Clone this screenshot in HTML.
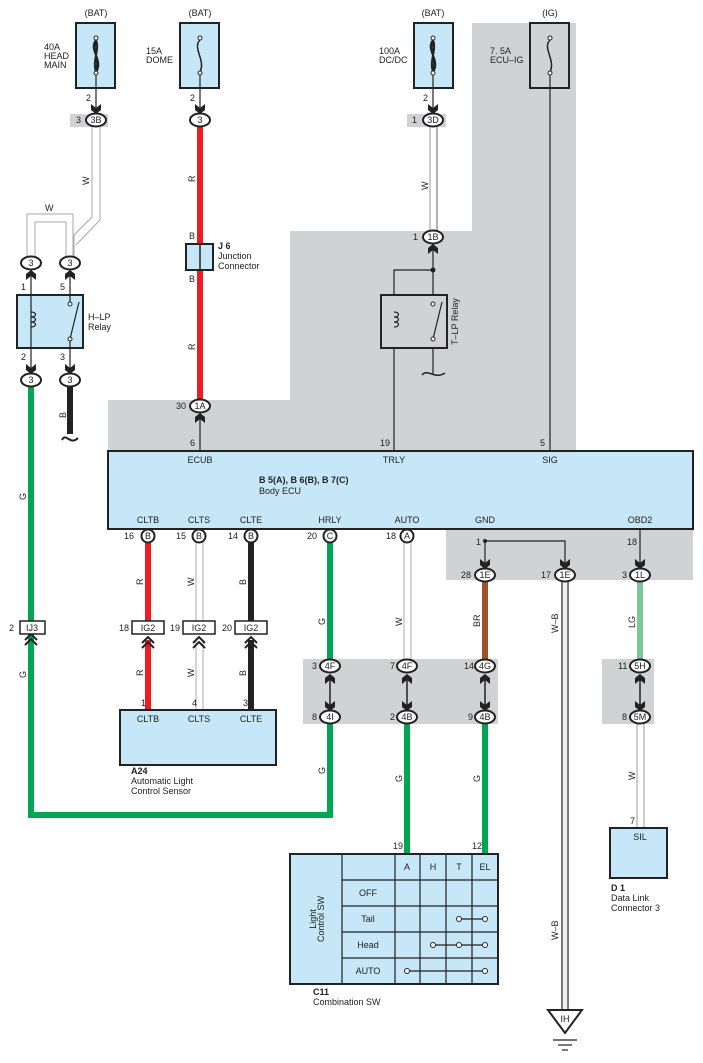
<!DOCTYPE html>
<html><head><meta charset="utf-8"><style>
html,body{margin:0;padding:0;background:#fff}
svg{display:block}
text{font-family:"Liberation Sans",sans-serif;font-size:9px;fill:#222}
.c{text-anchor:middle}
.b{font-weight:bold}
</style></head><body>
<svg width="703" height="1063" viewBox="0 0 703 1063" xmlns="http://www.w3.org/2000/svg">
<defs>
<path id="ad" d="M-5,-9 L0,-5 L5,-9 L5,-3 L0,1 L-5,-3 Z" fill="#222"/>
<path id="au" d="M-5,9 L0,5 L5,9 L5,3 L0,-1 L-5,3 Z" fill="#222"/>
</defs>
<!-- gray regions -->
<polygon points="472,23 576,23 576,451 108,451 108,400 290,400 290,231 472,231" fill="#d1d2d4"/>
<rect x="446" y="529" width="247" height="51" fill="#d1d2d4"/>
<rect x="303" y="659" width="195" height="65" fill="#d1d2d4"/>
<rect x="602" y="659" width="52" height="65" fill="#d1d2d4"/>
<rect x="70" y="114" width="38" height="13" fill="#d1d2d4"/>
<rect x="407" y="114" width="39" height="13" fill="#d1d2d4"/>

<!-- fuses -->
<text x="96" y="16" class="c">(BAT)</text>
<text x="200" y="16" class="c">(BAT)</text>
<text x="433" y="16" class="c">(BAT)</text>
<text x="550" y="16" class="c">(IG)</text>
<rect x="76" y="23" width="39" height="65" fill="#c5e7f7" stroke="#222" stroke-width="2"/>
<rect x="180" y="23" width="39" height="65" fill="#c5e7f7" stroke="#222" stroke-width="2"/>
<rect x="414" y="23" width="39" height="65" fill="#c5e7f7" stroke="#222" stroke-width="2"/>
<rect x="530" y="23" width="39" height="65" fill="#d1d2d4" stroke="#222" stroke-width="2"/>
<g fill="none" stroke="#222" stroke-width="1.5">
<path d="M96,40 C88,50 104,60 96,72 M96,40 C92,50 100,60 96,72 M96,40 C100,50 92,60 96,72" stroke-width="2"/>
<path d="M433,40 C425,50 441,60 433,72 M433,40 C429,50 437,60 433,72 M433,40 C437,50 429,60 433,72" stroke-width="2"/>
<path d="M200,40 C192,48 206,60 200,72"/>
<path d="M550,40 C542,48 556,60 550,72"/>
</g>
<g fill="#fff" stroke="#222" stroke-width="1">
<circle cx="96" cy="38" r="2"/><circle cx="96" cy="73" r="2"/>
<circle cx="200" cy="38" r="2"/><circle cx="200" cy="73" r="2"/>
<circle cx="433" cy="38" r="2"/><circle cx="433" cy="73" r="2"/>
<circle cx="550" cy="38" r="2"/><circle cx="550" cy="73" r="2"/>
</g>
<text x="44" y="50">40A</text><text x="44" y="59">HEAD</text><text x="44" y="68">MAIN</text>
<text x="146" y="54">15A</text><text x="146" y="63">DOME</text>
<text x="379" y="54">100A</text><text x="379" y="63">DC/DC</text>
<text x="490" y="54">7. 5A</text><text x="490" y="63">ECU–IG</text>

<!-- wires -->
<g fill="none">
<line x1="96" y1="75" x2="96" y2="110" stroke="#222" stroke-width="1.2"/>
<line x1="200" y1="75" x2="200" y2="110" stroke="#222" stroke-width="1.2"/>
<line x1="433" y1="75" x2="433" y2="110" stroke="#222" stroke-width="1.2"/>
<line x1="550" y1="75" x2="550" y2="451" stroke="#222" stroke-width="1.2"/>
<!-- W from 3B -->
<path d="M92,127 L92,217 L74,235 L74,257 M100,127 L100,220 L76,245" stroke="#aaa" stroke-width="1"/>
<path d="M27,257 L27,214 L73,214 L73,257 M35,257 L35,222 L66,222 L66,257" stroke="#aaa" stroke-width="1"/>
<!-- W 3D-1B -->
<line x1="430" y1="127" x2="430" y2="231" stroke="#999" stroke-width="1"/>
<line x1="437" y1="127" x2="437" y2="231" stroke="#999" stroke-width="1.5"/>
<!-- red dome -->
<line x1="200" y1="126" x2="200" y2="244" stroke="#ed1c24" stroke-width="6"/>
<line x1="200" y1="270" x2="200" y2="400" stroke="#ed1c24" stroke-width="6"/>
<line x1="200" y1="412" x2="200" y2="451" stroke="#222" stroke-width="1.2"/>
<!-- green big loop -->
<path d="M31,386 L31,815 L330,815 L330,723" stroke="#00a651" stroke-width="6"/>
<!-- black relay out -->
<line x1="70" y1="386" x2="70" y2="434" stroke="#222" stroke-width="6"/>
<path d="M62,440 C66,432 70,446 78,438" stroke="#222" stroke-width="2"/>
<!-- T-LP -->
<line x1="433" y1="243" x2="433" y2="375" stroke="#222" stroke-width="1.2"/>
<path d="M433,270 L394,270 L394,451" stroke="#222" stroke-width="1.2"/>
<path d="M422,375 C428,368 434,380 445,373" stroke="#222" stroke-width="1.5"/>
<!-- bottom wires -->
<line x1="148" y1="542" x2="148" y2="621" stroke="#ed1c24" stroke-width="6"/>
<line x1="148" y1="640" x2="148" y2="710" stroke="#ed1c24" stroke-width="6"/>
<path d="M196,542 V621 M203,542 V621 M196,640 V710 M203,640 V710" stroke="#aaa" stroke-width="1"/>
<line x1="251" y1="542" x2="251" y2="621" stroke="#222" stroke-width="6"/>
<line x1="251" y1="640" x2="251" y2="710" stroke="#222" stroke-width="6"/>
<line x1="330" y1="542" x2="330" y2="660" stroke="#00a651" stroke-width="6"/>
<path d="M404,542 V660 M411,542 V660" stroke="#aaa" stroke-width="1"/>
<path d="M485,541 V568 M485,541 L565,541 L565,568" stroke="#222" stroke-width="1.2"/>
<line x1="640" y1="529" x2="640" y2="568" stroke="#222" stroke-width="1.2"/>
<line x1="485" y1="581" x2="485" y2="660" stroke="#a0522d" stroke-width="6"/>
<line x1="640" y1="581" x2="640" y2="660" stroke="#7cc89a" stroke-width="6"/>
<path d="M562,581 V1012 M568,581 V1012" stroke="#222" stroke-width="1.2"/>
<line x1="565" y1="581" x2="565" y2="1012" stroke="#eee" stroke-width="3"/>
<line x1="407" y1="723" x2="407" y2="853" stroke="#00a651" stroke-width="6"/>
<line x1="485" y1="723" x2="485" y2="853" stroke="#00a651" stroke-width="6"/>
<path d="M637,723 V828 M644,723 V828" stroke="#999" stroke-width="1"/>
<!-- double-arrow links -->
<g stroke="#222" stroke-width="1.5">
<line x1="330" y1="675" x2="330" y2="708"/><line x1="407" y1="675" x2="407" y2="708"/>
<line x1="485" y1="675" x2="485" y2="708"/><line x1="640" y1="675" x2="640" y2="708"/>
</g>
</g>
<use href="#au" x="330" y="675"/><use href="#ad" x="330" y="710"/>
<use href="#au" x="407" y="675"/><use href="#ad" x="407" y="710"/>
<use href="#au" x="485" y="675"/><use href="#ad" x="485" y="710"/>
<use href="#au" x="640" y="675"/><use href="#ad" x="640" y="710"/>

<!-- arrows -->
<use href="#ad" x="96" y="113"/><use href="#ad" x="200" y="113"/><use href="#ad" x="433" y="113"/>
<use href="#au" x="31" y="271"/><use href="#au" x="70" y="271"/>
<use href="#ad" x="31" y="373"/><use href="#ad" x="70" y="373"/>
<use href="#au" x="433" y="245"/><use href="#au" x="200" y="414"/>
<use href="#ad" x="485" y="568"/><use href="#ad" x="565" y="568"/><use href="#ad" x="640" y="568"/>
<circle cx="485" cy="541" r="2" fill="#222"/><circle cx="433" cy="270" r="2.5" fill="#222"/>
<!-- chevrons for IG2 / IJ3 -->
<g fill="none" stroke-width="2">
<path d="M142,643 L148,637 L154,643 M142,648 L148,642 L154,648" stroke="#222"/>
<path d="M193,643 L199,637 L205,643 M193,648 L199,642 L205,648" stroke="#222"/>
<path d="M245,643 L251,637 L257,643 M245,648 L251,642 L257,648" stroke="#222"/>
<path d="M25,640 L31,634 L37,640 M25,645 L31,639 L37,645" stroke="#222"/>
</g>

<!-- connectors -->
<g fill="#fff" stroke="#222" stroke-width="2">
<ellipse cx="96" cy="120" rx="10" ry="6.5"/><ellipse cx="200" cy="120" rx="10" ry="6.5"/><ellipse cx="433" cy="120" rx="10" ry="6.5"/>
<ellipse cx="433" cy="237" rx="10" ry="6.5"/>
<ellipse cx="31" cy="263" rx="10" ry="6.5"/><ellipse cx="70" cy="263" rx="10" ry="6.5"/>
<ellipse cx="31" cy="380" rx="10" ry="6.5"/><ellipse cx="70" cy="380" rx="10" ry="6.5"/>
<ellipse cx="200" cy="406" rx="10" ry="6.5"/>
<circle cx="148" cy="536" r="6.5"/><circle cx="199" cy="536" r="6.5"/><circle cx="251" cy="536" r="6.5"/>
<circle cx="330" cy="536" r="6.5"/><circle cx="407" cy="536" r="6.5"/>
<ellipse cx="485" cy="575" rx="10" ry="6.5"/><ellipse cx="565" cy="575" rx="10" ry="6.5"/><ellipse cx="640" cy="575" rx="10" ry="6.5"/>
<ellipse cx="330" cy="666" rx="10" ry="6.5"/><ellipse cx="407" cy="666" rx="10" ry="6.5"/><ellipse cx="485" cy="666" rx="10" ry="6.5"/>
<ellipse cx="330" cy="717" rx="10" ry="6.5"/><ellipse cx="407" cy="717" rx="10" ry="6.5"/><ellipse cx="485" cy="717" rx="10" ry="6.5"/>
<ellipse cx="640" cy="666" rx="10" ry="6.5"/><ellipse cx="640" cy="717" rx="10" ry="6.5"/>
<rect x="132" y="621" width="32" height="13" stroke-width="1.5"/><rect x="183" y="621" width="32" height="13" stroke-width="1.5"/><rect x="235" y="621" width="32" height="13" stroke-width="1.5"/>
<rect x="20" y="621" width="25" height="13" stroke-width="1.5"/>
</g>
<g class="c">
<text x="96" y="123" class="c">3B</text><text x="200" y="123" class="c">3</text><text x="433" y="123" class="c">3D</text>
<text x="433" y="240" class="c">1B</text>
<text x="31" y="266" class="c">3</text><text x="70" y="266" class="c">3</text>
<text x="31" y="383" class="c">3</text><text x="70" y="383" class="c">3</text>
<text x="200" y="409" class="c">1A</text>
<text x="148" y="539" class="c">B</text><text x="199" y="539" class="c">B</text><text x="251" y="539" class="c">B</text>
<text x="330" y="539" class="c">C</text><text x="407" y="539" class="c">A</text>
<text x="485" y="578" class="c">1E</text><text x="565" y="578" class="c">1E</text><text x="640" y="578" class="c">1L</text>
<text x="330" y="669" class="c">4F</text><text x="407" y="669" class="c">4F</text><text x="485" y="669" class="c">4G</text>
<text x="330" y="720" class="c">4I</text><text x="407" y="720" class="c">4B</text><text x="485" y="720" class="c">4B</text>
<text x="640" y="669" class="c">5H</text><text x="640" y="720" class="c">5M</text>
<text x="148" y="631" class="c">IG2</text><text x="199" y="631" class="c">IG2</text><text x="251" y="631" class="c">IG2</text>
<text x="32" y="631" class="c">IJ3</text>
</g>
<!-- pin numbers -->
<text x="86" y="101">2</text><text x="190" y="101">2</text><text x="423" y="101">2</text>
<text x="76" y="123">3</text><text x="412" y="123">1</text><text x="413" y="240">1</text>
<text x="21" y="290">1</text><text x="60" y="290">5</text><text x="21" y="360">2</text><text x="60" y="360">3</text>
<text x="176" y="409">30</text>
<text x="190" y="446">6</text><text x="380" y="446">19</text><text x="540" y="446">5</text>
<text x="124" y="539">16</text><text x="176" y="539">15</text><text x="228" y="539">14</text><text x="307" y="539">20</text><text x="386" y="539">18</text>
<text x="476" y="545">1</text><text x="627" y="545">18</text>
<text x="461" y="578">28</text><text x="541" y="578">17</text><text x="622" y="578">3</text>
<text x="119" y="631">18</text><text x="170" y="631">19</text><text x="222" y="631">20</text><text x="9" y="631">2</text>
<text x="141" y="706">1</text><text x="192" y="706">4</text><text x="243" y="706">3</text>
<text x="312" y="669">3</text><text x="390" y="669">7</text><text x="464" y="669">14</text>
<text x="312" y="720">8</text><text x="390" y="720">2</text><text x="468" y="720">9</text>
<text x="618" y="669">11</text><text x="622" y="720">8</text>
<text x="393" y="849">19</text><text x="472" y="849">12</text><text x="630" y="824">7</text>
<!-- wire color labels (rotated) -->
<g>
<text transform="translate(89,185) rotate(-90)">W</text>
<text x="45" y="211">W</text>
<text transform="translate(195,182) rotate(-90)">R</text>
<text transform="translate(195,350) rotate(-90)">R</text>
<text x="189" y="239">B</text><text x="189" y="282">B</text>
<text transform="translate(428,190) rotate(-90)">W</text>
<text transform="translate(66,418) rotate(-90)">B</text>
<text transform="translate(26,500) rotate(-90)">G</text>
<text transform="translate(26,678) rotate(-90)">G</text>
<text transform="translate(325,774) rotate(-90)">G</text>
<text transform="translate(143,585) rotate(-90)">R</text>
<text transform="translate(143,676) rotate(-90)">R</text>
<text transform="translate(194,586) rotate(-90)">W</text>
<text transform="translate(194,677) rotate(-90)">W</text>
<text transform="translate(246,585) rotate(-90)">B</text>
<text transform="translate(246,676) rotate(-90)">B</text>
<text transform="translate(325,625) rotate(-90)">G</text>
<text transform="translate(402,626) rotate(-90)">W</text>
<text transform="translate(480,627) rotate(-90)">BR</text>
<text transform="translate(558,633) rotate(-90)">W–B</text>
<text transform="translate(635,628) rotate(-90)">LG</text>
<text transform="translate(402,782) rotate(-90)">G</text>
<text transform="translate(480,782) rotate(-90)">G</text>
<text transform="translate(635,780) rotate(-90)">W</text>
<text transform="translate(558,940) rotate(-90)">W–B</text>
</g>

<!-- J6 -->
<rect x="186" y="244" width="27" height="26" fill="#c5e7f7" stroke="#222" stroke-width="2"/>
<line x1="200" y1="244" x2="200" y2="270" stroke="#222" stroke-width="1.5"/>
<text x="218" y="249" class="b">J 6</text><text x="218" y="259">Junction</text><text x="218" y="269">Connector</text>

<!-- H-LP relay -->
<rect x="17" y="295" width="66" height="53" fill="#c5e7f7" stroke="#222" stroke-width="2"/>
<g fill="none" stroke="#222" stroke-width="1.2">
<path d="M31,273 V373"/>
<path d="M31,312 c6,0 6,5 0,5 c6,0 6,5 0,5 c6,0 6,5 0,5"/>
<path d="M70,273 V303 M70,339 V373 M70,339 L79,302"/>
</g>
<circle cx="70" cy="304" r="2" fill="#fff" stroke="#222"/><circle cx="70" cy="339" r="2" fill="#fff" stroke="#222"/>
<text x="88" y="320">H–LP</text><text x="88" y="330">Relay</text>

<!-- T-LP relay -->
<rect x="381" y="295" width="66" height="53" fill="#d1d2d4" stroke="#222" stroke-width="2"/>
<g fill="none" stroke="#222" stroke-width="1.2">
<path d="M394,312 c6,0 6,5 0,5 c6,0 6,5 0,5 c6,0 6,5 0,5"/>
<path d="M433,339 L442,302"/>
</g>
<circle cx="433" cy="304" r="2" fill="#fff" stroke="#222"/><circle cx="433" cy="339" r="2" fill="#fff" stroke="#222"/>
<text transform="translate(458,345) rotate(-90)">T–LP Relay</text>

<!-- ECU -->
<rect x="108" y="451" width="585" height="78" fill="#c5e7f7" stroke="#222" stroke-width="2"/>
<text x="200" y="463" class="c">ECUB</text><text x="394" y="463" class="c">TRLY</text><text x="550" y="463" class="c">SIG</text>
<text x="259" y="483" class="b">B 5(A), B 6(B), B 7(C)</text><text x="259" y="494">Body ECU</text>
<text x="148" y="523" class="c">CLTB</text><text x="199" y="523" class="c">CLTS</text><text x="251" y="523" class="c">CLTE</text>
<text x="330" y="523" class="c">HRLY</text><text x="407" y="523" class="c">AUTO</text><text x="485" y="523" class="c">GND</text><text x="640" y="523" class="c">OBD2</text>

<!-- A24 -->
<rect x="120" y="710" width="156" height="55" fill="#c5e7f7" stroke="#222" stroke-width="2"/>
<text x="148" y="722" class="c">CLTB</text><text x="199" y="722" class="c">CLTS</text><text x="251" y="722" class="c">CLTE</text>
<text x="131" y="774" class="b">A24</text><text x="131" y="784">Automatic Light</text><text x="131" y="794">Control Sensor</text>

<!-- D1 -->
<rect x="610" y="828" width="57" height="50" fill="#c5e7f7" stroke="#222" stroke-width="2"/>
<text x="640" y="840" class="c">SIL</text>
<text x="611" y="891" class="b">D 1</text><text x="611" y="901">Data Link</text><text x="611" y="911">Connector 3</text>

<!-- Combination SW -->
<rect x="290" y="854" width="208" height="130" fill="#c5e7f7" stroke="#222" stroke-width="2"/>
<g stroke="#222" stroke-width="1.2">
<line x1="342" y1="854" x2="342" y2="984"/><line x1="395" y1="854" x2="395" y2="984"/>
<line x1="420" y1="854" x2="420" y2="984"/><line x1="446" y1="854" x2="446" y2="984"/><line x1="472" y1="854" x2="472" y2="984"/>
<line x1="342" y1="880" x2="498" y2="880"/><line x1="342" y1="906" x2="498" y2="906"/>
<line x1="342" y1="932" x2="498" y2="932"/><line x1="342" y1="958" x2="498" y2="958"/>
<line x1="459" y1="919" x2="485" y2="919"/><line x1="433" y1="945" x2="485" y2="945"/><line x1="407" y1="971" x2="485" y2="971"/>
</g>
<g fill="#fff" stroke="#222" stroke-width="1">
<circle cx="459" cy="919" r="2.5"/><circle cx="485" cy="919" r="2.5"/>
<circle cx="433" cy="945" r="2.5"/><circle cx="459" cy="945" r="2.5"/><circle cx="485" cy="945" r="2.5"/>
<circle cx="407" cy="971" r="2.5"/><circle cx="485" cy="971" r="2.5"/>
</g>
<text x="407" y="870" class="c">A</text><text x="433" y="870" class="c">H</text><text x="459" y="870" class="c">T</text><text x="485" y="870" class="c">EL</text>
<text x="368" y="896" class="c">OFF</text><text x="368" y="922" class="c">Tail</text><text x="368" y="948" class="c">Head</text><text x="368" y="974" class="c">AUTO</text>
<text transform="translate(316,919) rotate(-90)" class="c">Light</text>
<text transform="translate(324,919) rotate(-90)" class="c">Control SW</text>
<text x="313" y="995" class="b">C11</text><text x="313" y="1005">Combination SW</text>

<!-- ground -->
<polygon points="548,1010 582,1010 565,1033" fill="#fff" stroke="#222" stroke-width="2"/>
<text x="565" y="1022" class="c">IH</text>
<g stroke="#222" stroke-width="1.2">
<line x1="553" y1="1040" x2="577" y2="1040"/><line x1="558" y1="1045" x2="572" y2="1045"/><line x1="562" y1="1050" x2="568" y2="1050"/>
</g>
</svg>
</body></html>
